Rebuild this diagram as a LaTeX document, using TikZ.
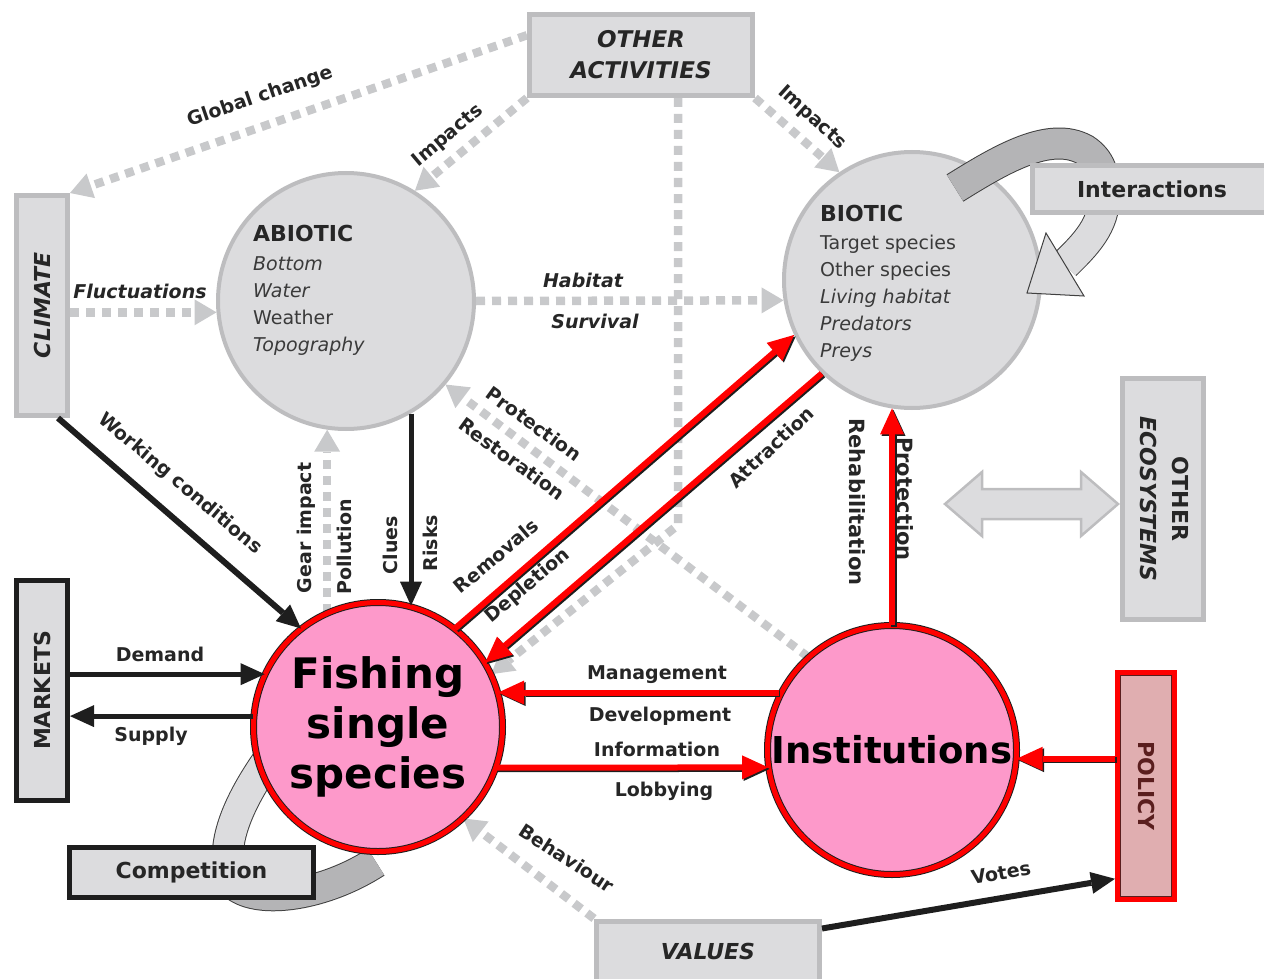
\documentclass[tikz,border=0pt]{standalone}
\usepackage{fontspec}
\setmainfont{DejaVu Sans}
\usetikzlibrary{arrows.meta,calc}
\definecolor{boxgray}{HTML}{DCDCDE}
\definecolor{edgegray}{HTML}{BDBDBF}
\definecolor{dotgray}{HTML}{C8C9CB}
\definecolor{inkblack}{HTML}{1E1E1E}
\definecolor{txt}{HTML}{262626}
\definecolor{itemtxt}{HTML}{3A3A3A}
\definecolor{pinkfill}{HTML}{FD99CA}
\definecolor{policyfill}{HTML}{E0AEB0}
\definecolor{polink}{HTML}{5A1E1E}
\definecolor{darkband}{HTML}{B4B4B6}
\pgfdeclarelayer{bg}
\pgfsetlayers{bg,main}
\newcommand\redlink[2]{%
  \draw[redshadow] #1 -- #2;
  \draw[redarrow] #1 -- #2;}
\begin{document}
\begin{tikzpicture}[x=1pt,y=-1pt,
  lbl/.style={font=\fontsize{19}{22}\selectfont\bfseries, text=txt, inner sep=0pt},
  lbli/.style={font=\fontsize{19}{22}\selectfont\bfseries\itshape, text=txt, inner sep=0pt},
  lblbig/.style={font=\fontsize{21}{24}\selectfont\bfseries, text=txt, inner sep=0pt},
  graybox/.style={rectangle, fill=boxgray, draw=edgegray, line width=5pt, inner sep=0pt},
  blackbox/.style={rectangle, fill=boxgray, draw=inkblack, line width=5pt, inner sep=0pt},
  graycirc/.style={circle, fill=boxgray, draw=edgegray, line width=4pt, inner sep=0pt, minimum size=256pt},
  pinkcirc/.style={circle, fill=pinkfill, draw=inkblack, double=red, double distance=5pt, line width=1pt, inner sep=0pt, minimum size=249pt},
  dotarrow/.style={draw=dotgray, line width=8.5pt, dash pattern=on 9pt off 7pt, -{Triangle[length=22pt,width=26pt,line width=0pt]}},
  blackarrow/.style={draw=inkblack, line width=6pt, -{Triangle[length=24pt,width=22pt,line width=0pt]}},
  redshadow/.style={draw=inkblack, line width=6pt, -{Triangle[length=26pt,width=24pt,line width=0pt]}, transform canvas={xshift=1.5pt,yshift=-1.5pt}},
  redarrow/.style={draw=red, line width=6pt, -{Triangle[length=26pt,width=24pt,line width=0pt]}},
  bandedge/.style={draw=inkblack!85, line width=32pt},
]
\useasboundingbox (0,0) rectangle (1264,979);
\clip (0,0) rectangle (1264,979);

% ---------- circles ----------
\node[graycirc] (abiotic) at (346,301) {};
\node[graycirc] (biotic) at (912,280) {};
\node[anchor=north west, align=left, inner sep=0pt, font=\fontsize{19}{27}\selectfont, text=itemtxt] (abtext) at (253,225)
  {{\fontsize{22}{27}\selectfont\bfseries\color{txt}ABIOTIC}\\[2pt]\textit{Bottom}\\\textit{Water}\\Weather\\\textit{Topography}};
\node[anchor=north west, align=left, inner sep=0pt, font=\fontsize{19}{27}\selectfont, text=itemtxt] (bitext) at (820,205)
  {{\fontsize{22}{27}\selectfont\bfseries\color{txt}BIOTIC}\\[1pt]Target species\\Other species\\\textit{Living habitat}\\\textit{Predators}\\\textit{Preys}};

% ---------- interactions loop ----------
\draw[bandedge] (955,188) .. controls (1000,160) and (1050,130) .. (1085,150) .. controls (1100,160) and (1105,175) .. (1104,195);
\draw[darkband, line width=30pt] (955,188) .. controls (1000,160) and (1050,130) .. (1085,150) .. controls (1100,160) and (1105,175) .. (1104,195);
\draw[bandedge] (1104,195) .. controls (1105,225) and (1085,245) .. (1065,264.5);
\draw[boxgray, line width=30pt] (1104,195) .. controls (1105,225) and (1085,245) .. (1065,264.5);
\node[graybox, minimum width=240pt, minimum height=47pt, font=\fontsize{22}{26}\selectfont\bfseries, text=txt] (interact) at (1152,189) {Interactions};
\filldraw[fill=boxgray, draw=inkblack!85, line width=1pt] (1046,233) -- (1027,293) -- (1084,296) -- cycle;

% ---------- boxes ----------
\node[graybox, minimum width=51pt, minimum height=220pt] (climate) at (42,305.5) {};
\node[rotate=90, inner sep=0pt, font=\fontsize{22}{26}\selectfont\bfseries\itshape, text=txt] (climatetext) at (climate) {CLIMATE};
\node[graybox, minimum width=223pt, minimum height=81pt, align=center, font=\fontsize{23}{31}\selectfont\bfseries\itshape, text=txt] (otheract) at (641,55) {OTHER\\ACTIVITIES};
\node[graybox, minimum width=81pt, minimum height=241pt] (otherecos) at (1163,499) {};
\node[rotate=-90, align=center, inner sep=0pt, font=\fontsize{22}{32}\selectfont\bfseries, text=txt] (otherecostext) at (1164,499) {OTHER\\\textit{ECOSYSTEMS}};
\node[blackbox, minimum width=51pt, minimum height=220pt] (markets) at (42,690.5) {};
\node[rotate=90, inner sep=0pt, font=\fontsize{22}{26}\selectfont\bfseries, text=txt] (marketstext) at (markets) {MARKETS};
\node[rectangle, fill=policyfill, draw=red, line width=5pt, minimum width=57pt, minimum height=227pt] (policy) at (1146,786) {};
\draw[polink, line width=1.5pt] ($(policy.north west)+(5.5,5.5)$) rectangle ($(policy.south east)+(-5.5,-5.5)$);
\node[rotate=-90, inner sep=0pt, font=\fontsize{22}{26}\selectfont\bfseries, text=polink] (policytext) at (policy) {POLICY};
\node[graybox, minimum width=223pt, minimum height=60pt, font=\fontsize{22}{26}\selectfont\bfseries\itshape, text=txt] (values) at (708,951) {VALUES};

% ---------- double arrow to other ecosystems ----------
\filldraw[fill=boxgray, draw=edgegray, line width=2.5pt]
  (945,504) -- (982,472) -- (982,489) -- (1081,489) -- (1081,472) -- (1118,504) -- (1081,536) -- (1081,519) -- (982,519) -- (982,536) -- cycle;

% ---------- competition loop (background) ----------
\begin{pgfonlayer}{bg}
\draw[bandedge] (268,760) .. controls (240,800) and (215,850) .. (235,885);
\draw[boxgray, line width=30pt] (268,760) .. controls (240,800) and (215,850) .. (235,885);
\draw[bandedge] (235,885) .. controls (260,905) and (325,895) .. (376,862);
\draw[darkband, line width=30pt] (235,885) .. controls (260,905) and (325,895) .. (376,862);
\end{pgfonlayer}

\node[blackbox, minimum width=244pt, minimum height=50pt, font=\fontsize{22}{26}\selectfont\bfseries, text=txt] (competition) at (191.5,872.5) {Competition};

% ---------- pink circles ----------
\node[pinkcirc, align=center, font=\fontsize{42}{50}\selectfont\bfseries] (fish) at (378,727) {Fishing\\single\\species};
\node[pinkcirc, font=\fontsize{37}{40}\selectfont\bfseries] (inst) at (892,750) {Institutions};

% ---------- dotted connectors ----------
\coordinate (oajoint) at (678,525);
\begin{pgfonlayer}{bg}
\draw[dotarrow] ($(otheract.north west)!0.27!(otheract.south west)$) -- (climate.north east);
\draw[dotarrow] (otheract.south west) -- (abiotic.58);
\draw[dotarrow] (otheract.south east) -- (biotic.124);
\draw[dotarrow] (climate.east |- abiotic.185) -- (abiotic.185);
\draw[dotarrow] (abiotic.east) -- (biotic.189);
\draw[dotarrow] (fish.114) -- (fish.114 |- abiotic.262);
\draw[dotarrow] (inst.132) -- (abiotic.-40);
\draw[dotarrow] (values.north west) -- (fish.-47);
\draw[dotarrow] (oajoint |- otheract.south) -- (oajoint) -- (fish.25);
\end{pgfonlayer}

% ---------- black connectors ----------
\draw[blackarrow] ([xshift=16pt]climate.south) -- (fish.128);
\draw[blackarrow, line width=5pt] (abiotic.-60) -- (abiotic.-60 |- fish.76);
\draw[blackarrow, line width=5pt] (markets.east |- fish.155) -- (fish.155);
\draw[blackarrow, line width=5pt] (fish.175) -- (markets.east |- fish.175);
\draw[blackarrow] ([yshift=-10pt]values.north east) -- ($(policy.south west)!0.1!(policy.north west)$);

% ---------- red connectors ----------
\redlink{(fish.52)}{(biotic.205)}
\redlink{(biotic.226)}{(fish.31)}
\redlink{(inst.north)}{(inst.north |- biotic.-99)}
\redlink{(inst.155 |- fish.16)}{(fish.16)}
\redlink{(fish.-19)}{(inst.188)}
\redlink{(policy.west |- inst.-4)}{(inst.-4)}

% ---------- labels ----------
\node[lbl, rotate=19] (lglobal) at (260,97) {Global change};
\node[lbl, rotate=40] (limpa) at (448,136) {Impacts};
\node[lbl, rotate=-42] (limpb) at (812,118) {Impacts};
\node[lbli] (lfluct) at (140,291) {Fluctuations};
\node[lbli] (lhab) at (583,280) {Habitat};
\node[lbli] (lsurv) at (595,321) {Survival};
\node[lbl, rotate=-40] (lwork) at (180,484) {Working conditions};
\node[lbl, rotate=90] (lgear) at (306,528) {Gear impact};
\node[lbl, rotate=90] (lpoll) at (344,547) {Pollution};
\node[lbl, rotate=90] (lclues) at (390,545) {Clues};
\node[lbl, rotate=90] (lrisks) at (430,543) {Risks};
\node[lbl, rotate=-36] (lprota) at (534,424) {Protection};
\node[lbl, rotate=-36] (lrest) at (512,459) {Restoration};
\node[lbl, rotate=40] (lremov) at (496,556) {Removals};
\node[lbl, rotate=40] (ldepl) at (528,586) {Depletion};
\node[lbl, rotate=43] (lattr) at (771,447) {Attraction};
\node[lblbig, rotate=-90] (lrehab) at (857,502) {Rehabilitation};
\node[lblbig, rotate=-90] (lprotb) at (905,499) {Protection};
\node[lbl] (lmanag) at (657,675) {Management};
\node[lbl] (ldevel) at (660,716) {Development};
\node[lbl] (linfo) at (657,749) {Information};
\node[lbl] (llobby) at (664,791) {Lobbying};
\node[lbl] (ldemand) at (160,654) {Demand};
\node[lbl] (lsupply) at (151,736) {Supply};
\node[lbl, rotate=-33] (lbehav) at (567,858) {Behaviour};
\node[lbl, rotate=10] (lvotes) at (1001,873) {Votes};
\end{tikzpicture}
\end{document}
